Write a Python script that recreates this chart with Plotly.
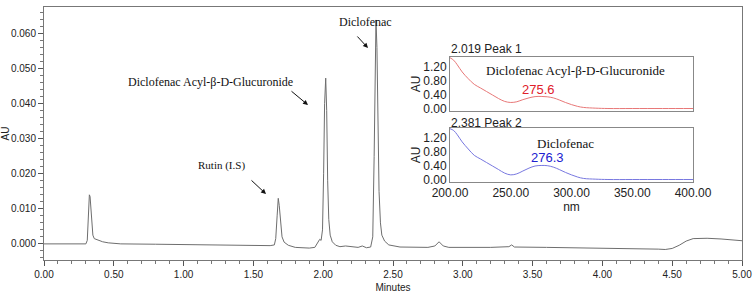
import plotly.graph_objects as go

# ---- Chromatogram data ----
minutes = [0.00, 0.10, 0.20, 0.28, 0.30, 0.31, 0.315, 0.32, 0.325, 0.33, 0.335, 0.34, 0.35, 0.36,
           0.38, 0.42, 0.46, 0.55, 0.80, 1.00, 1.30, 1.50, 1.62, 1.65, 1.66, 1.67, 1.678, 1.685,
           1.695, 1.705, 1.72, 1.75, 1.80, 1.90, 1.94, 1.96, 1.975, 1.985, 1.995, 2.003, 2.01,
           2.018, 2.025, 2.032, 2.04, 2.05, 2.065, 2.09, 2.12, 2.16, 2.20, 2.25, 2.28, 2.31,
           2.34, 2.355, 2.365, 2.372, 2.378, 2.385, 2.392, 2.40, 2.41, 2.42, 2.44, 2.47, 2.55,
           2.75, 2.80, 2.83, 2.86, 2.90, 3.20, 3.33, 3.35, 3.37, 3.60, 4.00, 4.30, 4.40, 4.45,
           4.50, 4.55, 4.60, 4.65, 4.75, 4.85, 4.95, 5.00]
au = [0.0000, 0.0000, -0.0001, -0.0002, 0.0000, 0.0010, 0.0050, 0.0100, 0.0140, 0.0135, 0.0100,
      0.0060, 0.0025, 0.0015, 0.0012, 0.0006, 0.0003, 0.0000, -0.0001, -0.0002, -0.0003, -0.0004,
      -0.0005, -0.0003, 0.0015, 0.0080, 0.0130, 0.0110, 0.0055, 0.0020, 0.0005, -0.0004, -0.0010,
      -0.0012, -0.0010, 0.0005, 0.0013, 0.0010, 0.0040, 0.0200, 0.0400, 0.0473, 0.0380, 0.0180,
      0.0070, 0.0025, 0.0006, -0.0004, -0.0008, -0.0006, -0.0007, -0.0010, -0.0006, -0.0011,
      -0.0009, 0.0020, 0.0250, 0.0520, 0.0639, 0.0560, 0.0350, 0.0150, 0.0060, 0.0025, 0.0008,
      -0.0003, -0.0009, -0.0010, -0.0006, 0.0006, -0.0006, -0.0010, -0.0010, -0.0008, -0.0003,
      -0.0009, -0.0010, -0.0012, -0.0013, -0.0015, -0.0016, -0.0013, -0.0004, 0.0008, 0.0015,
      0.0016, 0.0014, 0.0012, 0.0009]

# ---- UV spectra (inset) ----
wavelength = [200, 203, 206, 210, 215, 220, 225, 230, 235, 240, 245, 250, 255, 260, 265, 270,
              275, 280, 285, 290, 295, 300, 305, 310, 320, 330, 350, 375, 400]
peak1_au = [1.45, 1.38, 1.25, 1.05, 0.86, 0.70, 0.60, 0.50, 0.40, 0.30, 0.22, 0.19, 0.21, 0.27,
            0.32, 0.355, 0.36, 0.35, 0.32, 0.26, 0.19, 0.13, 0.08, 0.05, 0.03, 0.02, 0.02, 0.02, 0.02]
peak2_au = [1.45, 1.40, 1.28, 1.08, 0.88, 0.70, 0.60, 0.50, 0.40, 0.30, 0.20, 0.15, 0.18, 0.26,
            0.34, 0.40, 0.415, 0.41, 0.37, 0.30, 0.22, 0.15, 0.09, 0.05, 0.03, 0.02, 0.02, 0.02, 0.02]

x_ticks = [0.0, 0.5, 1.0, 1.5, 2.0, 2.5, 3.0, 3.5, 4.0, 4.5, 5.0]
y_ticks = [0.0, 0.01, 0.02, 0.03, 0.04, 0.05, 0.06]
inset_y_ticks = [0.0, 0.4, 0.8, 1.2]
inset_x_ticks = [200, 250, 300, 350, 400]

W, H = 756, 299
L, R, T, B = 44, 14, 7, 39
pw, ph = W - L - R, H - T - B

def px(xp):
    return (xp - L) / pw

def py(yp):
    return (H - B - yp) / ph

fig = go.Figure()
fig.add_trace(go.Scatter(x=minutes, y=au, mode="lines",
                         line=dict(color="#6e6e6e", width=1), xaxis="x", yaxis="y",
                         showlegend=False, hoverinfo="skip"))
fig.add_trace(go.Scatter(x=wavelength, y=peak1_au, mode="lines", line=dict(color="#e87878", width=1),
                         xaxis="x2", yaxis="y2", showlegend=False, line_shape="spline"))
fig.add_trace(go.Scatter(x=wavelength, y=peak2_au, mode="lines", line=dict(color="#7878e0", width=1),
                         xaxis="x3", yaxis="y3", showlegend=False, line_shape="spline"))

tickfont = dict(family="Liberation Sans, Arial", size=10, color="#222")
insetfont = dict(family="Liberation Sans, Arial", size=12, color="#222")

fig.update_layout(
    width=W, height=H, margin=dict(l=L, r=R, t=T, b=B, autoexpand=False),
    paper_bgcolor="white", plot_bgcolor="white",
    xaxis=dict(domain=[0, 1], range=[0, 5], tickvals=x_ticks, tickformat=".2f", automargin=False,
               ticks="outside", ticklen=5, tickcolor="#555", showgrid=False, zeroline=False,
               showline=True, linecolor="#777", linewidth=1, mirror=True,
               minor=dict(dtick=0.1, ticks="outside", ticklen=3, tickcolor="#777"),
               tickfont=tickfont,
               title=dict(text="Minutes", font=dict(family="Liberation Sans, Arial", size=10, color="#222"), standoff=4)),
    yaxis=dict(domain=[0, 1], range=[-0.0046, 0.0676], tickvals=y_ticks, tickformat=".3f", automargin=False,
               ticks="outside", ticklen=5, tickcolor="#555", showgrid=False, zeroline=False,
               showline=True, linecolor="#777", linewidth=1, mirror=True,
               minor=dict(dtick=0.002, ticks="outside", ticklen=3, tickcolor="#777"),
               tickfont=tickfont,
               title=dict(text="AU", font=dict(family="Liberation Sans, Arial", size=10, color="#222"), standoff=6)),
    xaxis2=dict(domain=[px(450), px(693)], anchor="y2", range=[200, 400], showticklabels=False,
                ticks="", showgrid=False, zeroline=False, showline=True, linecolor="#888",
                mirror=True, tickvals=inset_x_ticks, automargin=False),
    yaxis2=dict(domain=[py(111), py(57)], anchor="x2", range=[-0.05, 1.47], tickvals=inset_y_ticks,
                tickformat=".2f", ticks="", showgrid=False, zeroline=False, showline=True,
                linecolor="#888", mirror=True, tickfont=insetfont, automargin=False,
                title=dict(text="AU", font=insetfont, standoff=0)),
    xaxis3=dict(domain=[px(450), px(693)], anchor="y3", range=[200, 400], tickvals=inset_x_ticks,
                tickformat=".2f", ticks="", showgrid=False, zeroline=False, showline=True,
                linecolor="#888", mirror=True, tickfont=insetfont, automargin=False,
                title=dict(text="nm", font=insetfont, standoff=2)),
    yaxis3=dict(domain=[py(182), py(128)], anchor="x3", range=[-0.05, 1.47], tickvals=inset_y_ticks,
                tickformat=".2f", ticks="", showgrid=False, zeroline=False, showline=True,
                linecolor="#888", mirror=True, tickfont=insetfont, automargin=False,
                title=dict(text="AU", font=insetfont, standoff=0)),
)

serif = dict(family="Liberation Serif, Times New Roman", size=12, color="#111")


def label(x, y, text, font, xanchor="center"):
    return dict(x=px(x), y=py(y), xref="paper", yref="paper", text=text, showarrow=False,
                font=font, xanchor=xanchor, yanchor="middle")


def arrow(head_x, head_y, tail_x, tail_y):
    return dict(x=px(head_x), y=py(head_y), ax=tail_x - head_x, ay=tail_y - head_y,
                xref="paper", yref="paper", axref="pixel", ayref="pixel", text="",
                showarrow=True, arrowhead=2, arrowsize=1, arrowwidth=1, arrowcolor="#111")


ann = [
    label(365, 22, "Diclofenac", serif),
    arrow(368, 48, 356, 35),
    label(210, 82, "Diclofenac Acyl-β-D-Glucuronide", serif),
    arrow(308, 105, 290, 90),
    label(221, 165, "Rutin (I.S)", dict(family="Liberation Serif, Times New Roman", size=11, color="#111")),
    arrow(266, 194, 250, 179),
    label(449, 49, "2.019 Peak 1", insetfont, xanchor="left"),
    label(449, 123, "2.381 Peak 2", insetfont, xanchor="left"),
    label(575, 70, "Diclofenac Acyl-β-D-Glucuronide",
          dict(family="Liberation Serif, Times New Roman", size=13, color="#111")),
    label(565, 143, "Diclofenac", dict(family="Liberation Serif, Times New Roman", size=13, color="#111")),
    label(538, 89, "275.6", dict(family="Liberation Sans, Arial", size=13, color="#e0202a")),
    label(547, 157, "276.3", dict(family="Liberation Sans, Arial", size=13, color="#2020d0")),
]
fig.update_layout(annotations=ann)

fig.write_html("out.html", config={"displayModeBar": False},
               post_script="document.body.style.margin='0';document.body.style.padding='0';")
